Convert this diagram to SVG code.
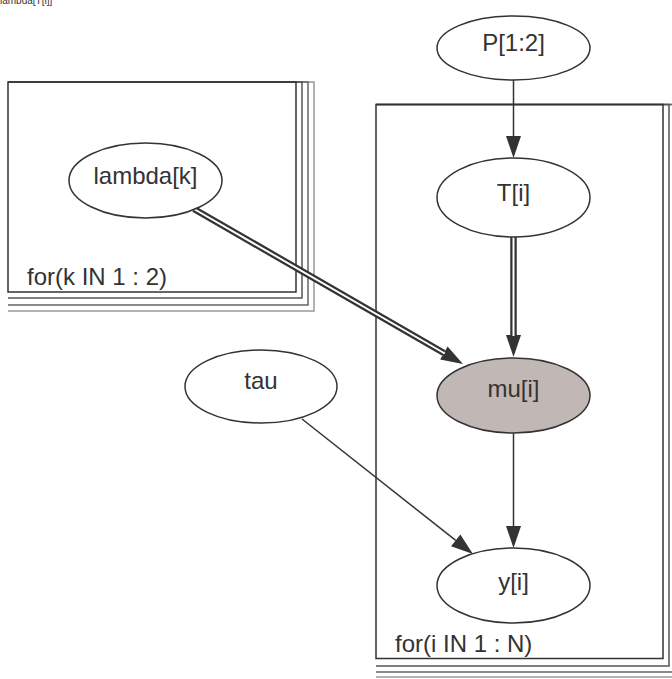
<svg xmlns="http://www.w3.org/2000/svg" width="672" height="679" viewBox="0 0 672 679">
  <style>
    text { font-family: "Liberation Sans", Arial, Helvetica, sans-serif; fill: #333; }
    .lbl { font-size: 24px; text-anchor: middle; }
    .plate-lbl { font-size: 24px; }
    .node { fill: #fff; stroke: #333; stroke-width: 1.5; }
    .node.shaded { fill: #c1b8b5; }
    .plate { fill: none; stroke-width: 1.5; }
    .p0 { stroke: #333; }
    .p1 { stroke: #555; }
    .p2 { stroke: #666; }
    .p3 { stroke: #999; }
    .edge { fill: none; stroke: #333; stroke-width: 1.5; }
    .dbl-out { fill: none; stroke: #333; stroke-width: 6.5; }
    .dbl-in { fill: none; stroke: #fff; stroke-width: 2; }
  </style>
  <defs>
    <marker id="arrow" markerUnits="userSpaceOnUse" markerWidth="23" markerHeight="16" refX="0" refY="7.5" orient="auto" overflow="visible">
      <path d="M0,0 L22,7.5 L0,15 Z" fill="#333"/>
    </marker>
  </defs>

  <rect width="672" height="679" fill="#fff"/>

  <!-- caption running off the top edge -->
  <text x="0" y="3.5" style="font-size:10px">lambda[T[i]]</text>

  <!-- plate: for(k IN 1 : 2) -->
  <g id="plate-k">
    <path class="plate p3" d="M8,82 H314 V311 H8"/>
    <path class="plate p2" d="M8,82 H308 V305 H8"/>
    <path class="plate p1" d="M8,82 H302 V298 H8"/>
    <rect class="plate p0" x="8" y="82" width="288" height="210"/>
    <text class="plate-lbl" x="27" y="285">for(k IN 1 : 2)</text>
  </g>

  <!-- plate: for(i IN 1 : N) -->
  <g id="plate-i">
    <path class="plate p3" d="M376,104.5 H681 V677 H376"/>
    <path class="plate p2" d="M376,104.5 H675 V672 H376"/>
    <path class="plate p1" d="M376,104.5 H669 V666 H376"/>
    <rect class="plate p0" x="376" y="104.5" width="287" height="554"/>
    <text class="plate-lbl" x="395" y="652">for(i IN 1 : N)</text>
  </g>

  <!-- connectors -->
  <g id="edges">
    <line class="edge" x1="513.5" y1="80" x2="513.5" y2="136" marker-end="url(#arrow)"/>
    <line class="dbl-out" x1="513.5" y1="237" x2="513.5" y2="335" marker-end="url(#arrow)"/>
    <line class="dbl-in" x1="513.5" y1="237" x2="513.5" y2="336"/>
    <line class="dbl-out" x1="194" y1="209" x2="443.9" y2="353" marker-end="url(#arrow)"/>
    <line class="dbl-in" x1="194" y1="209" x2="444.8" y2="353.5"/>
    <line class="edge" x1="513.5" y1="433" x2="513.5" y2="526" marker-end="url(#arrow)"/>
    <line class="edge" x1="302" y1="419" x2="455.7" y2="540.4" marker-end="url(#arrow)"/>
  </g>

  <!-- nodes -->
  <g id="node-P">
    <ellipse class="node" cx="513.5" cy="48" rx="76.5" ry="32"/>
    <text class="lbl" x="513.5" y="51">P[1:2]</text>
  </g>
  <g id="node-lambda">
    <ellipse class="node" cx="145.5" cy="180.5" rx="76.5" ry="37.5"/>
    <text class="lbl" x="145.5" y="184">lambda[k]</text>
  </g>
  <g id="node-T">
    <ellipse class="node" cx="513.5" cy="197.5" rx="76.5" ry="39.5"/>
    <text class="lbl" x="513.5" y="201">T[i]</text>
  </g>
  <g id="node-mu">
    <ellipse class="node shaded" cx="513.5" cy="395.5" rx="76.5" ry="37.5"/>
    <text class="lbl" x="513.5" y="397">mu[i]</text>
  </g>
  <g id="node-tau">
    <ellipse class="node" cx="261" cy="386.5" rx="76" ry="36.5"/>
    <text class="lbl" x="261" y="389">tau</text>
  </g>
  <g id="node-y">
    <ellipse class="node" cx="513.5" cy="585.5" rx="76.5" ry="37.5"/>
    <text class="lbl" x="513.5" y="590">y[i]</text>
  </g>
</svg>
